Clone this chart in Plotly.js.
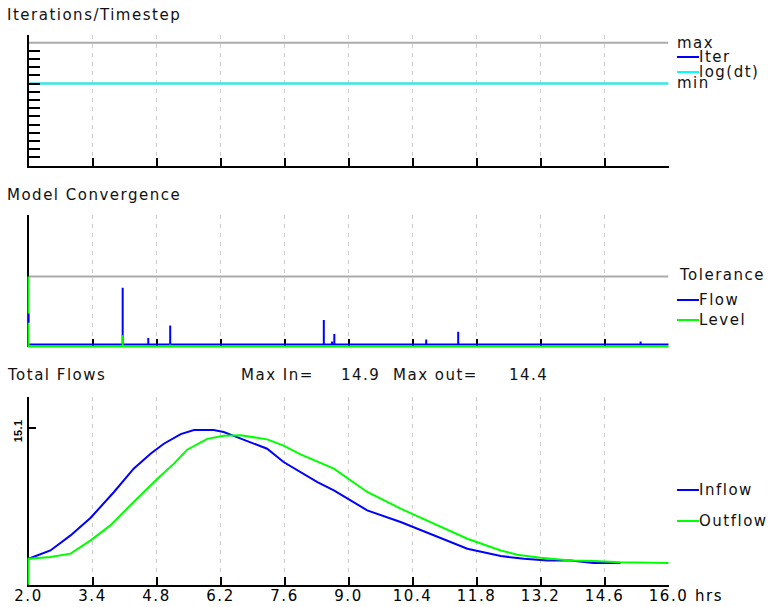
<!DOCTYPE html>
<html><head><meta charset="utf-8">
<script src="https://cdn.plot.ly/plotly-3.0.1.min.js"></script>
<style>
html,body{margin:0;padding:0;background:#fff;}
text{letter-spacing:1.5px;}
</style></head><body><div id="chart"></div>
<script>
// ---------- data ----------
const xTicks = [2.0, 3.4, 4.8, 6.2, 7.6, 9.0, 10.4, 11.8, 13.2, 14.6, 16.0];
const xUnit = 'hrs';

// Iterations/Timestep panel
const iterTicks = [1,2,3,4,5,6,7,8,9,10,11,12,13,14];
const iterMax = 15;
const iterMin = 10;
const logDt = 10;

// Model Convergence panel
const tolerance = 1.0;
const flowBase = 0.03;
const flowSpikeT = [4.06, 4.62, 5.10, 8.46, 8.64, 8.69, 10.70, 11.40, 15.39];
const flowSpikeV = [0.84, 0.12, 0.30, 0.38, 0.07, 0.18, 0.10, 0.21, 0.07];
const flowStart = [0.34, 0.47];
const levelBase = 0;
const levelSpikeT = [2.0, 4.06, 5.10];
const levelSpikeV = [1.0, 0.16, 0.03];

// Total Flows panel
const inflowT = [2.0, 2.48, 2.92, 3.36, 3.87, 4.30, 4.67, 4.96, 5.33, 5.62, 6.05, 6.27, 6.49, 7.22, 7.58, 8.32, 8.68, 9.04, 9.41, 10.14, 10.87, 11.60, 12.33, 12.84, 13.35, 13.86, 14.36, 14.95];
const inflowQ = [2.5, 3.3, 4.75, 6.45, 8.93, 11.18, 12.62, 13.58, 14.5, 14.9, 14.9, 14.71, 14.33, 13.1, 11.82, 9.89, 9.08, 8.12, 7.16, 6.04, 4.75, 3.47, 2.76, 2.5, 2.34, 2.34, 2.09, 2.09];
const outflowT = [2.0, 2.0, 2.48, 2.92, 3.36, 3.79, 4.30, 4.82, 5.18, 5.47, 5.91, 6.27, 6.64, 7.22, 7.58, 7.95, 8.68, 9.04, 9.41, 10.14, 10.87, 11.60, 12.33, 12.69, 13.20, 13.86, 14.36, 14.95, 16.0];
const outflowQ = [0, 2.5, 2.67, 2.99, 4.27, 5.71, 7.97, 10.21, 11.66, 13.0, 14.05, 14.35, 14.4, 14.0, 13.4, 12.55, 11.18, 10.05, 8.93, 7.32, 5.88, 4.43, 3.3, 2.89, 2.6, 2.34, 2.28, 2.17, 2.09];
const flowTicks = [15.1];
const maxIn = '14.9';
const maxOut = '14.4';

// ---------- geometry ----------
const W = 771, H = 607;
const L = 28.5, R = 668.5;
const xr = [xTicks[0], xTicks[xTicks.length - 1]];
const P1 = {top: 34.5, bot: 165.5, range: [0, 16]};
const P2 = {top: 215, bot: 346.5, range: [0, 1.879]};
const P3 = {top: 396.8, bot: 584.7, range: [0, 18.1]};
const yd = p => [1 - p.bot / H, 1 - p.top / H];
const EXT = 6;
const xPerPx = (xr[1] - xr[0]) / (R - L);
function extY(p) {
  const k = (p.range[1] - p.range[0]) / (p.bot - p.top);
  return {domain: [1 - (p.bot + EXT) / H, 1 - (p.top - EXT) / H],
          range: [p.range[0] - EXT * k, p.range[1] + EXT * k]};
}
const extX = {domain: [(L - EXT) / W, (R + EXT) / W], range: [xr[0] - EXT * xPerPx, xr[1] + EXT * xPerPx]};

function spikes(t, v, base) {
  const xs = [xr[0]], ys = [base];
  t.forEach((ti, i) => { xs.push(ti, ti, ti); ys.push(base, v[i], base); });
  xs.push(xr[1]); ys.push(base);
  return {xs, ys};
}
const flowS = spikes(flowSpikeT, flowSpikeV, flowBase);
const levelS = spikes(levelSpikeT, levelSpikeV, levelBase);

const BLUE = '#0000ff', GREEN = '#00ff00', CYAN = '#00ffff', GRAY = '#aaaaaa';
const ln = (c) => ({color: c, width: 2});

const traces = [
  // panel 3 frame (no marks)
  {x: [], y: [], xaxis: 'x', yaxis: 'y', mode: 'lines', hoverinfo: 'skip'},
  // panel 1
  {x: xr, y: [iterMin, iterMin], xaxis: 'x2', yaxis: 'y2', mode: 'lines', line: ln(GRAY), name: 'min'},
  {x: xr, y: [iterMax, iterMax], xaxis: 'x2', yaxis: 'y2', mode: 'lines', line: ln(GRAY), name: 'max'},
  {x: xr, y: [logDt, logDt], xaxis: 'x2', yaxis: 'y2', mode: 'lines', line: ln(CYAN), name: 'log(dt)'},
  // panel 2
  {x: xr, y: [tolerance, tolerance], xaxis: 'x3', yaxis: 'y3', mode: 'lines', line: ln(GRAY), name: 'Tolerance'},
  {x: flowS.xs, y: flowS.ys, xaxis: 'x5', yaxis: 'y5', mode: 'lines', line: ln(BLUE), name: 'Flow'},
  {x: levelS.xs, y: levelS.ys, xaxis: 'x5', yaxis: 'y5', mode: 'lines', line: ln(GREEN), name: 'Level'},
  {x: [xr[0], xr[0]], y: flowStart, xaxis: 'x5', yaxis: 'y5', mode: 'lines', line: ln(BLUE), name: 'Flow'},
  // panel 3
  {x: inflowT, y: inflowQ, xaxis: 'x4', yaxis: 'y4', mode: 'lines', line: ln(BLUE), name: 'Inflow'},
  {x: outflowT, y: outflowQ, xaxis: 'x4', yaxis: 'y4', mode: 'lines', line: ln(GREEN), name: 'Outflow'}
];

const FONT = 'DejaVu Sans, sans-serif';
const xCommon = {
  range: xr, domain: [L / W, R / W], tickmode: 'array', tickvals: xTicks,
  ticktext: xTicks.map(v => v.toFixed(1)),
  ticks: 'inside', ticklen: 8, tickwidth: 2, tickcolor: '#000',
  showgrid: true, gridcolor: '#cccccc', gridwidth: 1.5, griddash: '4px,5px',
  zeroline: false, showline: true, linecolor: '#000', linewidth: 2, fixedrange: true
};
const yCommon = {
  showgrid: false, zeroline: false, showline: true, linecolor: '#000', linewidth: 2, fixedrange: true
};

const layout = {
  width: W, height: H, margin: {l: 0, r: 0, t: 0, b: 0},
  paper_bgcolor: '#ffffff', plot_bgcolor: 'rgba(0,0,0,0)', showlegend: false,
  font: {family: FONT, size: 15, color: '#111'},
  xaxis: Object.assign({}, xCommon, {anchor: 'y', showticklabels: true, ticklabelstandoff: -4,
    tickfont: {family: FONT, size: 15, color: '#000'}}),
  xaxis2: Object.assign({}, xCommon, {anchor: 'y2', showticklabels: false}),
  xaxis3: Object.assign({}, xCommon, {anchor: 'y3', showticklabels: false, showline: false}),
  yaxis: Object.assign({}, yCommon, {anchor: 'x', domain: yd(P3), range: P3.range, tickmode: 'array',
    tickvals: flowTicks, ticks: 'inside', ticklen: 7, tickwidth: 2, tickcolor: '#000', showticklabels: false}),
  yaxis2: Object.assign({}, yCommon, {anchor: 'x2', domain: yd(P1), range: P1.range, tickmode: 'array',
    tickvals: iterTicks, ticks: 'inside', ticklen: 11, tickwidth: 2, tickcolor: '#000', showticklabels: false}),
  yaxis3: Object.assign({}, yCommon, {anchor: 'x3', domain: yd(P2), range: P2.range, ticks: '', showticklabels: false}),
  xaxis4: Object.assign({}, extX, {anchor: 'y4', visible: false, fixedrange: true}),
  yaxis4: Object.assign({}, extY(P3), {anchor: 'x4', visible: false, fixedrange: true}),
  xaxis5: Object.assign({}, extX, {anchor: 'y5', visible: false, fixedrange: true}),
  yaxis5: Object.assign({}, extY(P2), {anchor: 'x5', visible: false, fixedrange: true}),
  annotations: [],
  shapes: []
};

function label(text, xpx, ypx, extra) {
  layout.annotations.push(Object.assign({
    text: text, xref: 'paper', yref: 'paper', x: xpx / W, y: 1 - ypx / H,
    xanchor: 'left', yanchor: 'middle', showarrow: false, borderpad: 0,
    font: {family: FONT, size: 15, color: '#111'}
  }, extra || {}));
}
function swatch(color, ypx) {
  layout.shapes.push({type: 'line', xref: 'paper', yref: 'paper', x0: 677 / W, x1: 699 / W,
    y0: 1 - ypx / H, y1: 1 - ypx / H, line: {color: color, width: 2}});
}

label('Iterations/Timestep', 6, 15);
label('Model Convergence', 6, 195);
label('Total Flows', 6, 375);

label('max', 676, 43);
label('Iter', 698, 57); swatch(BLUE, 57);
label('log(dt)', 698, 72); swatch(CYAN, 72);
label('min', 676, 83);

label('Tolerance', 678, 275);
label('Flow', 698, 300); swatch(BLUE, 300);
label('Level', 698, 320); swatch(GREEN, 320);

label('Inflow', 698, 490); swatch(BLUE, 490);
label('Outflow', 698, 521); swatch(GREEN, 521);

label('Max In=', 240, 375);
label(maxIn, 340, 375);
label('Max out=', 392, 375);
label(maxOut, 508, 375);
label(xUnit, 694, 596, {font: {family: FONT, size: 15, color: '#000'}});

// y tick label of the Total Flows axis (rotated below, after drawing)
const tickLabelTexts = flowTicks.map(v => v.toFixed(1));
flowTicks.forEach((v, i) => {
  layout.annotations.push({
    text: tickLabelTexts[i],
    xref: 'paper', yref: 'y', x: 17 / W, y: v, xanchor: 'center', yanchor: 'middle',
    yshift: -3, showarrow: false, borderpad: 0,
    font: {family: 'Liberation Sans, Arial, sans-serif', size: 11, color: '#000', weight: 'bold'}
  });
});

Plotly.newPlot('chart', traces, layout, {staticPlot: true, displayModeBar: false}).then(gd => {
  gd.querySelectorAll('.annotation-text').forEach(t => {
    if (tickLabelTexts.indexOf(t.textContent.trim()) < 0) return;
    t.style.letterSpacing = '0.3px';
    const b = t.getBBox();
    const cx = b.x + b.width / 2, cy = b.y + b.height / 2;
    t.setAttribute('transform', 'rotate(-90 ' + cx + ' ' + cy + ')');
  });
});
</script></body></html>
